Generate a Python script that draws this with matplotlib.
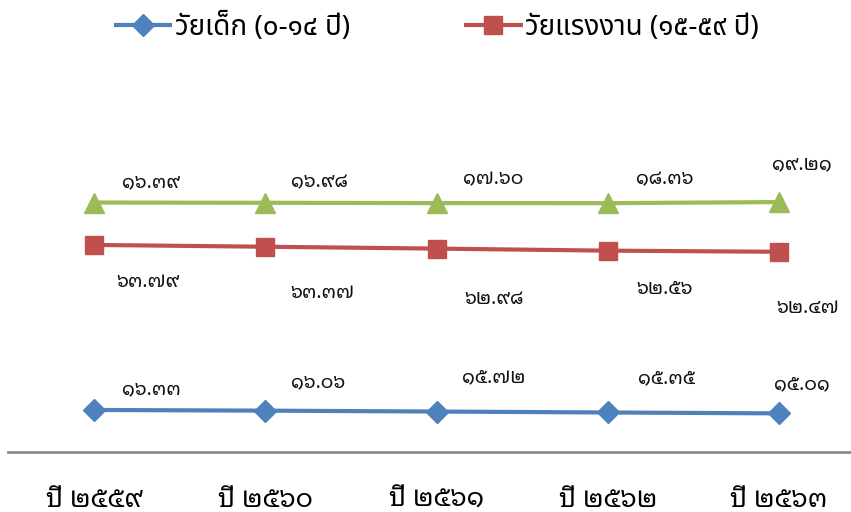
import matplotlib
matplotlib.use("Agg")
import matplotlib.pyplot as plt
import numpy as np

years = ["ปี ๒๕๕๙", "ปี ๒๕๖๐", "ปี ๒๕๖๑", "ปี ๒๕๖๒", "ปี ๒๕๖๓"]
series_names = ["วัยเด็ก (๐-๑๔ ปี)", "วัยแรงงาน (๑๕-๕๙ ปี)", "วัยสูงอายุ (๖๐ ปีขึ้นไป)"]
child = [16.33, 16.06, 15.72, 15.35, 15.01]
working = [63.79, 63.37, 62.98, 62.56, 62.47]
elderly = [16.39, 16.98, 17.60, 18.36, 19.21]

THAI_DIGITS = str.maketrans("0123456789", "๐๑๒๓๔๕๖๗๘๙")


def thai_num(v):
    return f"{v:.2f}".translate(THAI_DIGITS)


label_font = ["Noto Sans Thai Looped", "DejaVu Sans"]
legend_font = ["Noto Sans Thai", "DejaVu Sans"]

colors = ["#4F81BD", "#C0504D", "#9BBB59"]
markers = ["D", "s", "^"]
msizes = [11, 13, 14]

# label offsets in pixels (dx, dy) for each series/point
offsets = [
    [(57, 21), (53, 28), (57, 34), (59, 34), (23, 29)],
    [(54, -37), (57, -46), (57, -50), (57, -38), (29, -56)],
    [(57, 20), (54, 21), (57, 24), (57, 24), (23, 38)],
]

fig = plt.figure(figsize=(8.51, 5.12), dpi=100)
ax = fig.add_axes([0.0099, 0.1168, 0.9901, 0.6063])

x = np.arange(len(years))
# stacked line chart
stack = np.cumsum(np.vstack([child, working, elderly]), axis=0)
values = [child, working, elderly]

handles = []
for i in range(3):
    (h,) = ax.plot(x, stack[i], color=colors[i], lw=3, marker=markers[i],
                   ms=msizes[i], mec=colors[i], solid_capstyle="butt",
                   clip_on=False, zorder=3)
    handles.append(h)
    for j in range(len(x)):
        ax.annotate(thai_num(values[i][j]), (x[j], stack[i][j]),
                    xytext=offsets[i][j], textcoords="offset pixels",
                    ha="center", va="center", fontsize=14,
                    family=label_font, color="#111111")

ax.set_xlim(-0.5, 4.42)
ax.set_ylim(0, 120)
ax.set_yticks([])
ax.set_xticks(x)
ax.set_xticklabels(years, fontsize=19, fontweight="bold", family=label_font)
ax.tick_params(axis="x", length=0, pad=24)
for s in ["top", "right", "left"]:
    ax.spines[s].set_visible(False)
ax.spines["bottom"].set_color("#8C8C8C")
ax.spines["bottom"].set_linewidth(2)

leg = fig.legend(handles[:2], series_names[:2], loc="upper center",
                 bbox_to_anchor=(0.513, 1.024), ncol=2, frameon=False,
                 handlelength=2.1, columnspacing=4.1, handletextpad=0.1,
                 prop={"family": legend_font, "size": 20, "weight": "bold"})

fig.savefig("out.png")
